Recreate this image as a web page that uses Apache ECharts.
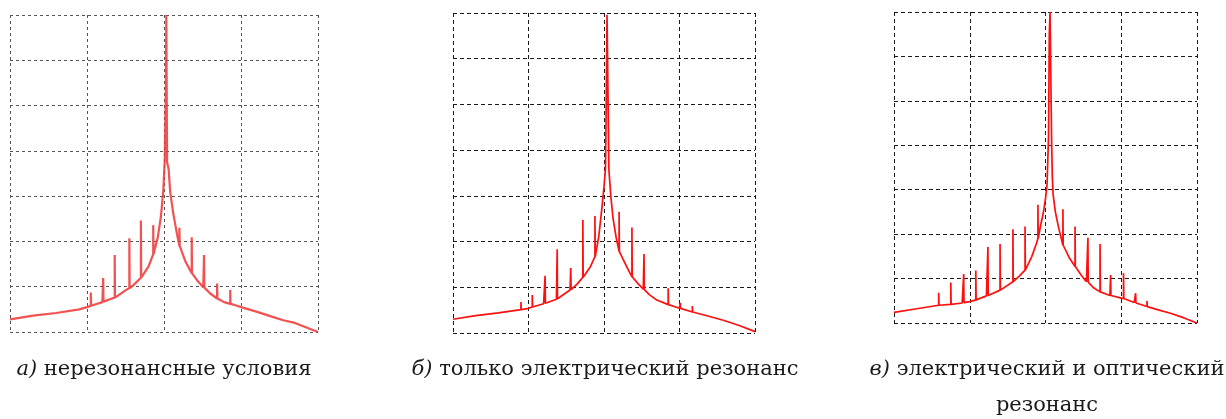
<!DOCTYPE html>
<html>
<head>
<meta charset="utf-8">
<script src="https://cdn.jsdelivr.net/npm/echarts@6/dist/echarts.min.js"></script>
<style>
html,body{margin:0;padding:0;background:#fff;}
#chart{width:1226px;height:419px;}
</style>
</head>
<body>
<div id="chart"></div>
<script>
// ---- Data (x in grid units 0..4, y in grid units 0..7) ----
// baseline curve points [x, y]
const baseA = [[0,0.28],[0.3,0.36],[0.6,0.42],[0.9,0.5],[1.0,0.55],[1.2,0.66],[1.36,0.76],[1.5,0.92],[1.6,1.03],[1.71,1.21],[1.8,1.45],[1.86,1.72],[1.92,2.1],[1.96,2.55],[1.99,3.1],[2.01,3.8],[2.025,5.5],[2.03,7.0],[2.04,3.75],[2.06,3.6],[2.08,3.1],[2.12,2.62],[2.17,2.15],[2.21,1.88],[2.28,1.55],[2.36,1.3],[2.44,1.12],[2.51,0.99],[2.6,0.85],[2.69,0.74],[2.78,0.66],[2.86,0.62],[2.95,0.58],[3.0,0.55],[3.2,0.45],[3.4,0.34],[3.55,0.26],[3.7,0.2],[3.85,0.1],[4.0,0.0]];
const baseB = [[0,0.30],[0.3,0.38],[0.6,0.44],[0.9,0.51],[1.0,0.54],[1.2,0.64],[1.37,0.74],[1.55,0.94],[1.65,1.08],[1.73,1.23],[1.82,1.45],[1.88,1.67],[1.93,2.1],[1.97,2.7],[2.0,3.2],[2.02,3.6],[2.03,5.1],[2.035,5.1],[2.04,6.96],[2.06,6.96],[2.065,3.57],[2.08,3.55],[2.09,3.0],[2.12,2.5],[2.16,2.1],[2.21,1.75],[2.3,1.45],[2.37,1.23],[2.45,1.08],[2.52,0.96],[2.6,0.84],[2.7,0.72],[2.85,0.62],[3.0,0.54],[3.2,0.45],[3.4,0.36],[3.58,0.28],[3.8,0.16],[4.0,0.03]];
const baseC = [[0,0.24],[0.3,0.32],[0.6,0.39],[0.9,0.45],[1.0,0.48],[1.22,0.61],[1.40,0.74],[1.57,0.93],[1.65,1.05],[1.73,1.19],[1.82,1.5],[1.88,1.79],[1.93,2.15],[1.97,2.47],[2.0,2.8],[2.02,3.1],[2.04,4.2],[2.05,6.5],[2.06,7.0],[2.075,7.0],[2.08,4.2],[2.09,3.3],[2.1,2.9],[2.13,2.5],[2.17,2.17],[2.24,1.72],[2.32,1.45],[2.39,1.27],[2.47,1.08],[2.54,0.93],[2.63,0.8],[2.72,0.70],[2.85,0.62],[3.0,0.56],[3.17,0.46],[3.34,0.37],[3.5,0.29],[3.65,0.22],[3.82,0.12],[4.0,0.0]];

// side spikes [x, base, top]
const spikesA = [[1.05,0.58,0.87],[1.21,0.67,1.19],[1.36,0.76,1.70],[1.55,0.97,2.07],[1.70,1.2,2.46],[1.86,1.72,2.36],[2.20,1.9,2.30],[2.36,1.3,2.09],[2.52,0.98,1.70],[2.69,0.74,1.07],[2.86,0.62,0.93]];
const spikesB = [[0.90,0.51,0.68],[1.05,0.57,0.83],[1.22,0.65,1.25],[1.38,0.75,1.83],[1.56,0.95,1.42],[1.72,1.22,2.47],[1.88,1.67,2.56],[2.20,1.78,2.65],[2.37,1.23,2.31],[2.53,0.95,1.73],[2.85,0.62,0.98],[3.01,0.54,0.66],[3.17,0.46,0.59]];
const spikesC = [[0.59,0.40,0.68],[0.75,0.42,0.91],[0.92,0.46,1.10],[1.08,0.52,1.18],[1.24,0.62,1.71],[1.40,0.74,1.78],[1.57,0.93,2.11],[1.73,1.19,2.17],[1.90,1.9,2.66],[2.23,1.75,2.56],[2.39,1.27,2.17],[2.56,0.92,1.92],[2.72,0.70,1.78],[2.86,0.62,1.08],[3.03,0.55,1.12],[3.19,0.45,0.67],[3.34,0.37,0.50]];

const captionA = ['а)', 'нерезонансные условия'];
const captionB = ['б)', 'только электрический резонанс'];
const captionC = ['в)', 'электрический и оптический', 'резонанс'];

// ---- build line data: baseline with spikes inserted ----
function build(base, spikes) {
  const pts = base.map(p => ({x: p[0], pts: [[p[0], p[1]]]}));
  spikes.forEach(s => pts.push({x: s[0], pts: [[s[0], s[1]], [s[0], s[2]], [s[0] + 0.004, s[1]]]}));
  pts.sort((a, b) => a.x - b.x);
  const out = [];
  pts.forEach(p => p.pts.forEach(q => out.push(q)));
  return out;
}

const grids = [
  {left: 10, top: 15, width: 308, height: 317},
  {left: 453, top: 13, width: 302, height: 320},
  {left: 894, top: 12, width: 303, height: 311}
];
const gridStyles = [
  {color: '#555', type: [3, 3]},
  {color: '#1a1a1a', type: [4, 3]},
  {color: '#1a1a1a', type: [4, 3]}
];

function xAx(i) {
  return {type: 'value', gridIndex: i, min: 0, max: 4, interval: 1,
    axisLine: {show: false}, axisTick: {show: false}, axisLabel: {show: false},
    splitLine: {show: true, showMinLine: true, showMaxLine: true, lineStyle: Object.assign({width: 1}, gridStyles[i])}};
}
function yAx(i) {
  return {type: 'value', gridIndex: i, min: 0, max: 7, interval: 1,
    axisLine: {show: false}, axisTick: {show: false}, axisLabel: {show: false},
    splitLine: {show: true, showMinLine: true, showMaxLine: true, lineStyle: Object.assign({width: 1}, gridStyles[i])}};
}

const lineStyles = [
  {color: '#f03434', width: 2.2, opacity: 0.85},
  {color: '#ff1010', width: 1.7},
  {color: '#ff1010', width: 1.7}
];
const datasets = [build(baseA, spikesA), build(baseB, spikesB), build(baseC, spikesC)];

const font = '"DejaVu Serif", "Liberation Serif", serif';
const fs = 21;
function cap(x, y, parts) {
  return {type: 'text', x: x, y: y,
    style: {text: '{i|' + parts[0] + '} ' + parts[1], align: 'center', verticalAlign: 'middle',
      fontFamily: font, fontSize: fs, fill: '#1a1a1a',
      rich: {i: {fontStyle: 'italic', fontFamily: font, fontSize: fs, fill: '#1a1a1a'}}}};
}
function plain(x, y, t) {
  return {type: 'text', x: x, y: y,
    style: {text: t, align: 'center', verticalAlign: 'middle', fontFamily: font, fontSize: fs, fill: '#1a1a1a'}};
}

const chart = echarts.init(document.getElementById('chart'), null, {renderer: 'canvas'});
chart.setOption({
  animation: false,
  backgroundColor: '#fff',
  grid: grids,
  xAxis: [xAx(0), xAx(1), xAx(2)],
  yAxis: [yAx(0), yAx(1), yAx(2)],
  series: datasets.map((d, i) => ({
    type: 'line', xAxisIndex: i, yAxisIndex: i, data: d,
    showSymbol: false, symbol: 'none', lineStyle: lineStyles[i], clip: false, z: 3
  })),
  graphic: [
    cap(164, 370, captionA),
    cap(605, 370, captionB),
    cap(1047, 370, captionC),
    plain(1047, 406, captionC[2])
  ]
});
</script>
</body>
</html>
